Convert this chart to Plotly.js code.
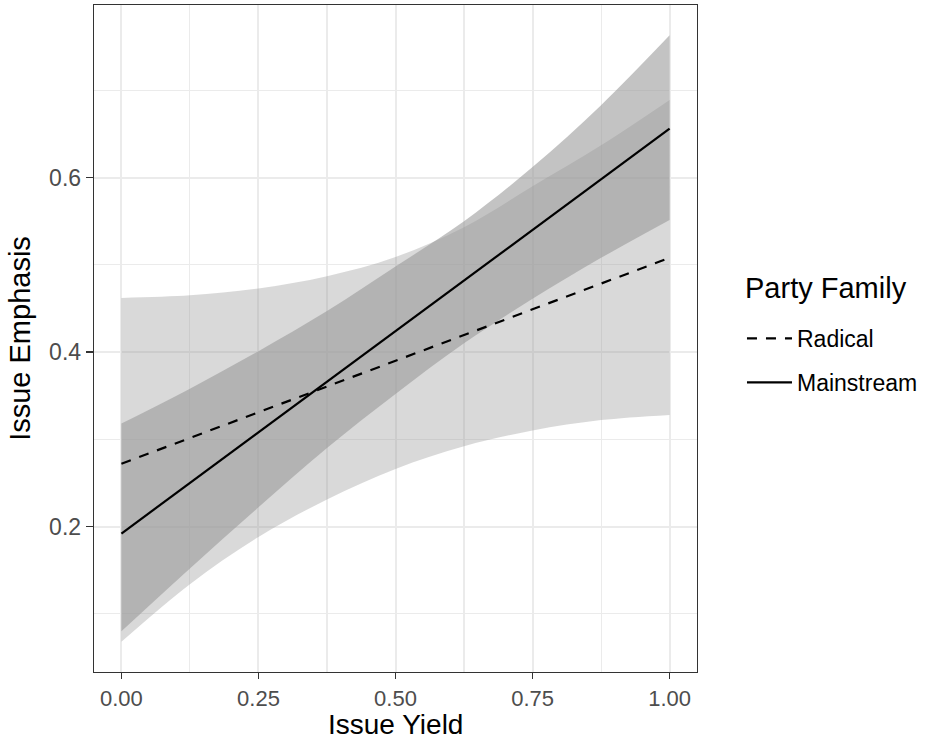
<!DOCTYPE html>
<html>
<head>
<meta charset="utf-8">
<script src="https://cdn.plot.ly/plotly-3.0.1.min.js"></script>
<style>html,body{margin:0;padding:0;background:#fff;}#chart{width:930px;height:742px;}</style>
</head>
<body>
<div id="chart"></div>
<script>
// Issue Yield grid at which the confidence bands were read
const issueYield = [0, 0.125, 0.25, 0.375, 0.5, 0.625, 0.75, 0.875, 1];
// Radical parties: 95% band
const radicalUpper = [0.462, 0.465, 0.473, 0.487, 0.509, 0.543, 0.590, 0.637, 0.689];
const radicalLower = [0.068, 0.134, 0.188, 0.231, 0.266, 0.292, 0.310, 0.322, 0.328];
// Mainstream parties: 95% band
const mainUpper = [0.318, 0.358, 0.401, 0.447, 0.498, 0.550, 0.612, 0.683, 0.763];
const mainLower = [0.080, 0.152, 0.222, 0.290, 0.352, 0.410, 0.461, 0.508, 0.5515];
// Fitted lines
const fitX = [0, 1];
const radicalFit = [0.272, 0.508];
const mainFit = [0.192, 0.656];

const seriesNames = ['Radical', 'Mainstream'];
const legendTitle = 'Party Family';
const xTitle = 'Issue Yield';
const yTitle = 'Issue Emphasis';
const xTicks = [0, 0.25, 0.5, 0.75, 1];
const xTickText = ['0.00', '0.25', '0.50', '0.75', '1.00'];
const yTicks = [0.2, 0.4, 0.6];
const yTickText = ['0.2', '0.4', '0.6'];

const FONT = 'Liberation Sans, Arial, Helvetica, sans-serif';
const radFill = 'rgba(151,151,151,0.367)';
const mainFill = 'rgba(151,151,151,0.579)';

const traces = [
  {x: issueYield, y: radicalLower, mode: 'lines', line: {width: 0, shape: 'spline'}, hoverinfo: 'skip', showlegend: false},
  {x: issueYield, y: radicalUpper, mode: 'lines', line: {width: 0, shape: 'spline'}, fill: 'tonexty', fillcolor: radFill, hoverinfo: 'skip', showlegend: false},
  {x: issueYield, y: mainLower, mode: 'lines', line: {width: 0, shape: 'spline'}, hoverinfo: 'skip', showlegend: false},
  {x: issueYield, y: mainUpper, mode: 'lines', line: {width: 0, shape: 'spline'}, fill: 'tonexty', fillcolor: mainFill, hoverinfo: 'skip', showlegend: false},
  {x: fitX, y: radicalFit, mode: 'lines', name: seriesNames[0], legendgroup: 'a', line: {color: '#000', width: 2.2, dash: '10px,9px'}},
  {x: fitX, y: mainFit, mode: 'lines', name: seriesNames[1], legendgroup: 'b', line: {color: '#000', width: 2.2}}
];

const layout = {
  width: 930, height: 742,
  margin: {l: 94, r: 233, t: 5, b: 70},
  paper_bgcolor: '#fff', plot_bgcolor: '#fff',
  font: {family: FONT, color: '#000'},
  xaxis: {
    range: [-0.05, 1.05], tickvals: xTicks, ticktext: xTickText,
    showgrid: true, gridcolor: '#ebebeb', gridwidth: 2,
    minor: {tickvals: [0.125, 0.375, 0.625, 0.875], showgrid: true, gridcolor: '#ebebeb', gridwidth: 1.1, ticks: ''},
    zeroline: false, showline: true, mirror: true, linecolor: '#333', linewidth: 1.3,
    ticks: 'outside', ticklen: 6, tickwidth: 1.3, tickcolor: '#333',
    tickfont: {size: 22, color: '#4d4d4d', family: FONT},
    automargin: false
  },
  yaxis: {
    range: [0.0333, 0.7978], tickvals: yTicks, ticktext: yTickText,
    showgrid: true, gridcolor: '#ebebeb', gridwidth: 2,
    minor: {tickvals: [0.1, 0.3, 0.5, 0.7], showgrid: true, gridcolor: '#ebebeb', gridwidth: 1.1, ticks: ''},
    zeroline: false, showline: true, mirror: true, linecolor: '#333', linewidth: 1.3,
    ticks: 'outside', ticklen: 7, tickwidth: 1.3, tickcolor: '#333',
    tickfont: {size: 23, color: '#4d4d4d', family: FONT},
    title: {text: yTitle, font: {size: 29, color: '#000', family: FONT}, standoff: 10},
    automargin: false
  },
  showlegend: true,
  legend: {
    x: 1.0746, xanchor: 'left', y: 0.5322, yanchor: 'top',
    bgcolor: 'rgba(0,0,0,0)', borderwidth: 0,
    font: {size: 23, color: '#000', family: FONT},
    traceorder: 'grouped', tracegroupgap: 11, itemwidth: 45
  },
  annotations: [
    {text: legendTitle, xref: 'paper', yref: 'paper', x: 1.0763, y: 0.5757,
     xanchor: 'left', yanchor: 'middle', showarrow: false,
     font: {size: 29, color: '#000', family: FONT}},
    {text: xTitle, xref: 'paper', yref: 'paper', x: 0.5, y: -0.1027,
     xanchor: 'center', yanchor: 'bottom', showarrow: false, borderpad: 0,
     font: {size: 28, color: '#000', family: FONT}}
  ]
};

Plotly.newPlot('chart', traces, layout, {displayModeBar: false, staticPlot: true});
</script>
</body>
</html>
